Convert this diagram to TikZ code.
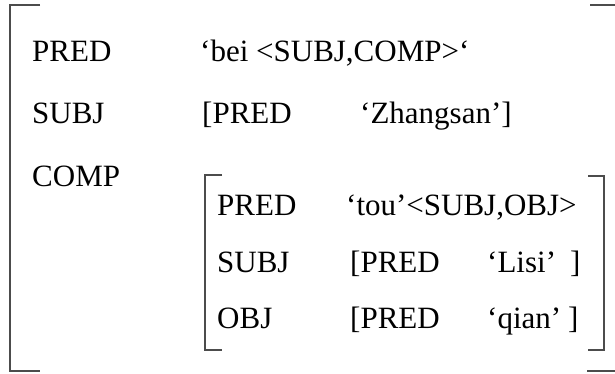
\documentclass[tikz,border=0pt]{standalone}
\usepackage{fontspec}
\setmainfont{Liberation Serif}

\begin{document}
\begin{tikzpicture}[x=1pt, y=-1pt,
		feat/.style={anchor=base west, inner sep=0pt, font=\fontsize{31}{37}\selectfont},
		bar/.style={draw=black!70, line width=2pt}]
			\useasboundingbox (0,0) rectangle (615,374);
			% outer bracket
			\draw[bar] (40,5) -- (10,5) -- (10,371) -- (40,371);
			\draw[bar] (590,5) -- (615,5);
			\draw[bar] (587,371) -- (615,371);
			% inner bracket
			\draw[bar] (222,175) -- (205,175) -- (205,350) -- (222,350);
			\draw[bar] (588,176) -- (604,176) -- (604,350) -- (588,350);
			% outer features
			\node[feat] (pred) at (32,62) {PRED};
			\node[feat] (subj) at (32,124) {SUBJ};
			\node[feat] (comp) at (32,186) {COMP};
			\node[feat] (predval) at (200,62) {‘bei <SUBJ,COMP>‘};
			\node[feat] (subjpred) at (202,124) {[PRED};
			\node[feat] (subjval) at (360,124) {‘Zhangsan’]};
			% inner features
			\node[feat] (ipred) at (217,215) {PRED};
			\node[feat] (isubj) at (217,272) {SUBJ};
			\node[feat] (iobj) at (217,328) {OBJ};
			\node[feat] (ipredval) at (346,215) {‘tou’<SUBJ,OBJ>};
			\node[feat] (isubjpred) at (350,272) {[PRED};
			\node[feat] (isubjval) at (487,272) {‘Lisi’\hspace{14pt}]};
			\node[feat] (iobjpred) at (350,328) {[PRED};
			\node[feat] (iobjval) at (487,328) {‘qian’\hspace{7pt}]};
		\end{tikzpicture}
\end{document}
